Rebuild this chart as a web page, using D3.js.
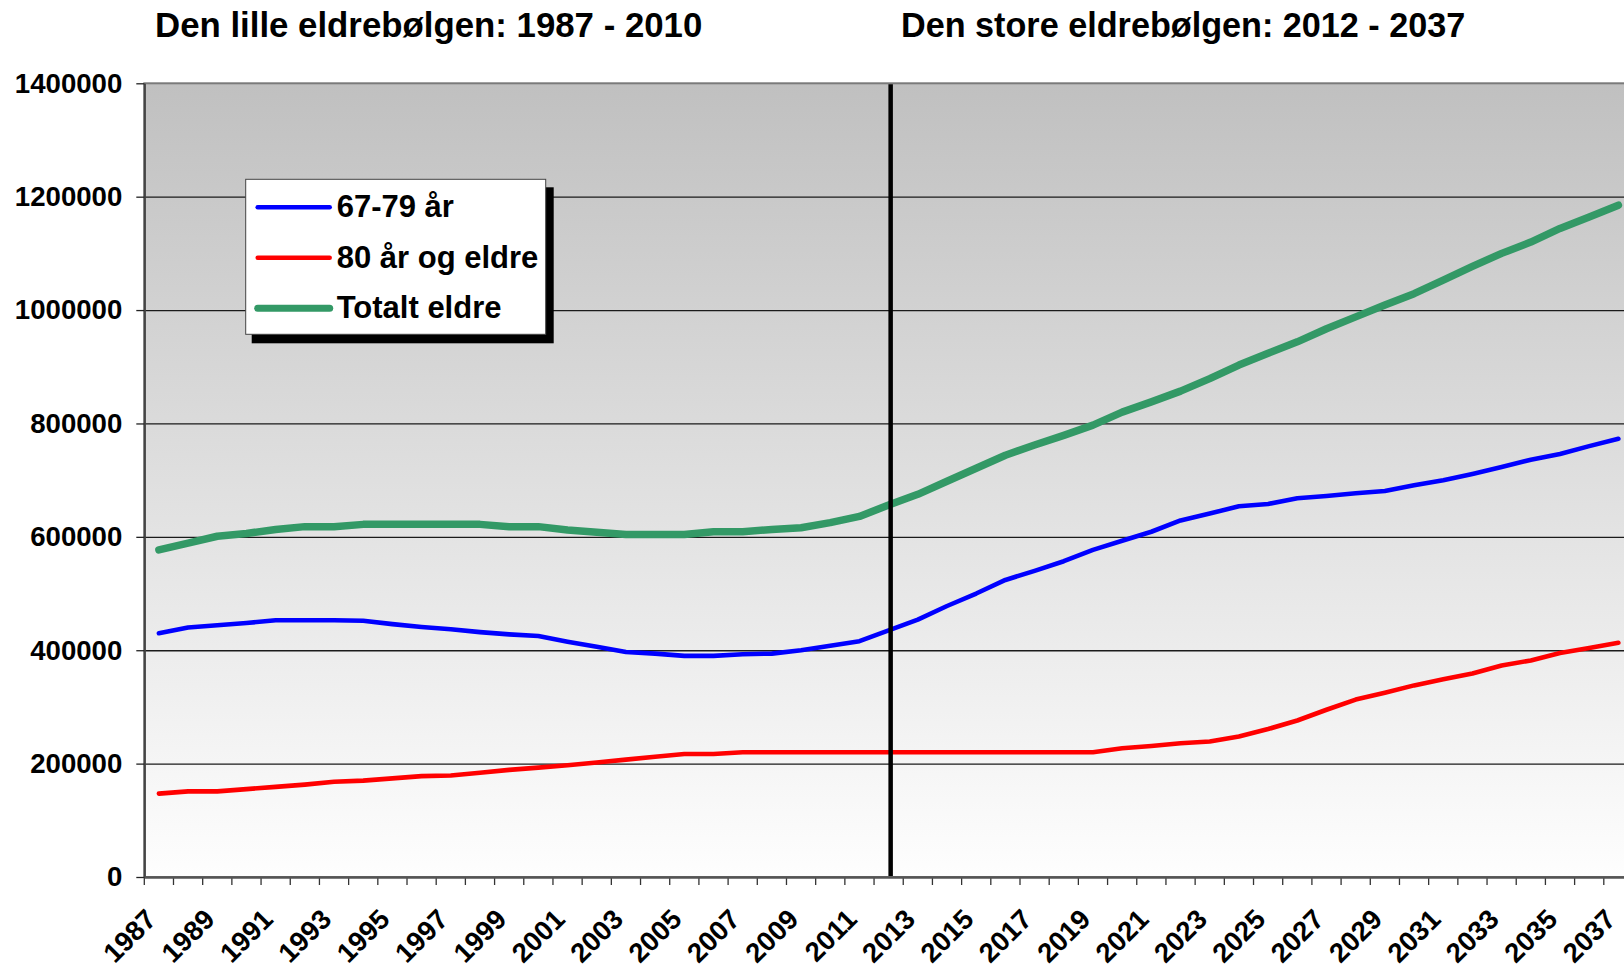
<!DOCTYPE html>
<html>
<head>
<meta charset="utf-8">
<script src="https://cdn.jsdelivr.net/npm/d3@7"></script>
<style>
  body { margin: 0; background: #fff; }
  svg { display: block; font-family: "Liberation Sans", Arial, sans-serif; font-weight: bold; }
</style>
</head>
<body>
<svg id="chart" width="1624" height="968"></svg>
<script>
(function () {
    'use strict';

    // years on the category axis
    var years = d3.range(1987, 2038);
    var labelYears = years.filter(function (d) { return (d - 1987) % 2 === 0; });
    var yTicks = [0, 200000, 400000, 600000, 800000, 1000000, 1200000, 1400000];

    var titles = ["Den lille eldrebølgen: 1987 - 2010", "Den store eldrebølgen: 2012 - 2037"];
    var names = ["67-79 år", "80 år og eldre", "Totalt eldre"];

    // values in thousands
    var age6779 = [430, 440, 444, 448, 453, 453, 453, 452, 446, 441, 437, 432, 428, 425, 415, 406, 397, 394,
        390, 390, 393, 394, 400, 408, 416, 435, 454, 478, 500, 524, 540, 557, 577, 593, 609,
        629, 641, 654, 658, 668, 672, 677, 681, 691, 700, 711, 723, 736, 746, 760, 773];
    var age80 = [147, 151, 151, 155, 159, 163, 168, 170, 174, 178, 179, 184, 189, 193, 197, 202, 207, 212,
        217, 217, 220, 220, 220, 220, 220, 220, 220, 220, 220, 220, 220, 220, 220,
        227, 231, 236, 239, 248, 261, 276, 295, 313, 325, 338, 349, 359, 373, 382, 395, 404, 413];
    var total = [577, 589, 601, 606, 613, 618, 618, 622, 622, 622, 622, 622, 618, 618, 612, 608, 604, 604,
        604, 609, 609, 613, 616, 625, 636, 656, 675, 698, 721, 744, 762, 779, 797, 820, 838,
        857, 879, 903, 924, 944, 967, 988, 1009, 1029, 1053, 1077, 1100, 1120, 1144, 1164, 1185];
    var dividerYear = 2012;

    var colours = ["#0000ff", "#ff0000", "#339966"],
        widths = [4.6, 4.6, 7.5];
    var series = [age6779, age80, total];

    var left = 144.3, top = 83.3, bottom = 877,
        step = 29.19,
        width = step * years.length,
        height = bottom - top;

    var svg = d3.select("#chart");

    var x = d3.scaleBand().domain(years).range([left, left + width]).padding(0);
    var y = d3.scaleLinear().domain([0, 1400000]).range([bottom, top]);
    var cx = function (yr) { return x(yr) + x.bandwidth() / 2; };

    // plot background
    var grad = svg.append("defs").append("linearGradient")
        .attr("id", "bg").attr("x1", 0).attr("y1", 0).attr("x2", 0).attr("y2", 1);
    grad.append("stop").attr("offset", "0%").attr("stop-color", "#c0c0c0");
    grad.append("stop").attr("offset", "100%").attr("stop-color", "#fefefe");

    svg.append("rect")
        .attr("x", left).attr("y", top)
        .attr("width", width).attr("height", height)
        .attr("fill", "url(#bg)")
        .attr("stroke", "#7a7a7a")
        .attr("stroke-width", 2);

    // gridlines
    svg.append("g")
        .attr("transform", "translate(" + left + ",0)")
        .call(d3.axisLeft(y).tickValues(yTicks.slice(1, -1)).tickSize(-width).tickFormat(""))
        .call(function (g) { g.select(".domain").remove(); })
        .selectAll("line").attr("stroke", "#1a1a1a").attr("stroke-width", 1.3);

    // y axis
    var yAxis = svg.append("g")
        .attr("transform", "translate(" + left + ",0)")
        .call(d3.axisLeft(y).tickValues(yTicks).tickSize(8).tickSizeOuter(0).tickPadding(14)
            .tickFormat(d3.format("d")));
    yAxis.select(".domain").attr("stroke", "#444").attr("stroke-width", 2.2);
    yAxis.selectAll("line").attr("stroke", "#222").attr("stroke-width", 1.3);
    yAxis.selectAll("text")
        .attr("font-size", 27.6).attr("font-weight", "bold").attr("fill", "#000")
        .attr("font-family", "'Liberation Sans', Arial, sans-serif");

    // x axis: tick marks between categories
    svg.append("g").selectAll("line")
        .data(years)
        .enter()
        .append("line")
        .attr("x1", function (d) { return x(d); })
        .attr("x2", function (d) { return x(d); })
        .attr("y1", bottom)
        .attr("y2", bottom + 8)
        .attr("stroke", "#333")
        .attr("stroke-width", 1.3);

    var xAxis = svg.append("g")
        .attr("transform", "translate(0," + bottom + ")")
        .call(d3.axisBottom(x).tickValues(labelYears).tickSize(0).tickSizeOuter(0));
    xAxis.select(".domain").attr("stroke", "#555").attr("stroke-width", 2.6);
    xAxis.selectAll("text")
        .attr("y", 0).attr("dy", 0)
        .attr("transform", "translate(-1,44) rotate(-45)")
        .attr("text-anchor", "end")
        .attr("font-size", 27.5).attr("font-weight", "bold").attr("fill", "#000")
        .attr("font-family", "'Liberation Sans', Arial, sans-serif");

    // lines
    var line = d3.line()
        .x(function (d, i) { return cx(years[i]); })
        .y(function (d) { return y(d * 1000); });

    svg.append("g").selectAll("path")
        .data(series)
        .enter()
        .append("path")
        .attr("d", line)
        .attr("fill", "none")
        .attr("stroke", function (d, i) { return colours[i]; })
        .attr("stroke-width", function (d, i) { return widths[i]; })
        .attr("stroke-linejoin", "round")
        .attr("stroke-linecap", "round");

    // divider between the two waves
    svg.append("line")
        .attr("x1", cx(dividerYear) + 2).attr("x2", cx(dividerYear) + 2)
        .attr("y1", top + 1).attr("y2", bottom - 1)
        .attr("stroke", "#000")
        .attr("stroke-width", 4.5);

    // titles
    svg.selectAll("text.title")
        .data(titles)
        .enter()
        .append("text")
        .attr("class", "title")
        .attr("x", function (d, i) { return i === 0 ? 155 : 901; })
        .attr("y", 37)
        .attr("font-size", function (d, i) { return i === 0 ? 34.8 : 34.2; })
        .attr("fill", "#000")
        .text(function (d) { return d; });

    // legend
    var legend = svg.append("g").attr("transform", "translate(245.7,179.3)");
    legend.append("rect")
        .attr("x", 6).attr("y", 8)
        .attr("width", 302).attr("height", 156)
        .attr("fill", "#000");
    legend.append("rect")
        .attr("width", 300).attr("height", 155)
        .attr("fill", "#fff")
        .attr("stroke", "#444")
        .attr("stroke-width", 1);

    var items = legend.selectAll("g.item")
        .data(names)
        .enter()
        .append("g")
        .attr("class", "item")
        .attr("transform", function (d, i) { return "translate(0," + (28 + i * 50.5) + ")"; });
    items.append("line")
        .attr("x1", 12).attr("x2", 84)
        .attr("stroke", function (d, i) { return colours[i]; })
        .attr("stroke-width", function (d, i) { return i === 2 ? 7 : 4.5; })
        .attr("stroke-linecap", "round");
    items.append("text")
        .attr("x", 91)
        .attr("y", 10)
        .attr("font-size", 31)
        .attr("fill", "#000")
        .text(function (d) { return d; });
})();
</script>
</body>
</html>
